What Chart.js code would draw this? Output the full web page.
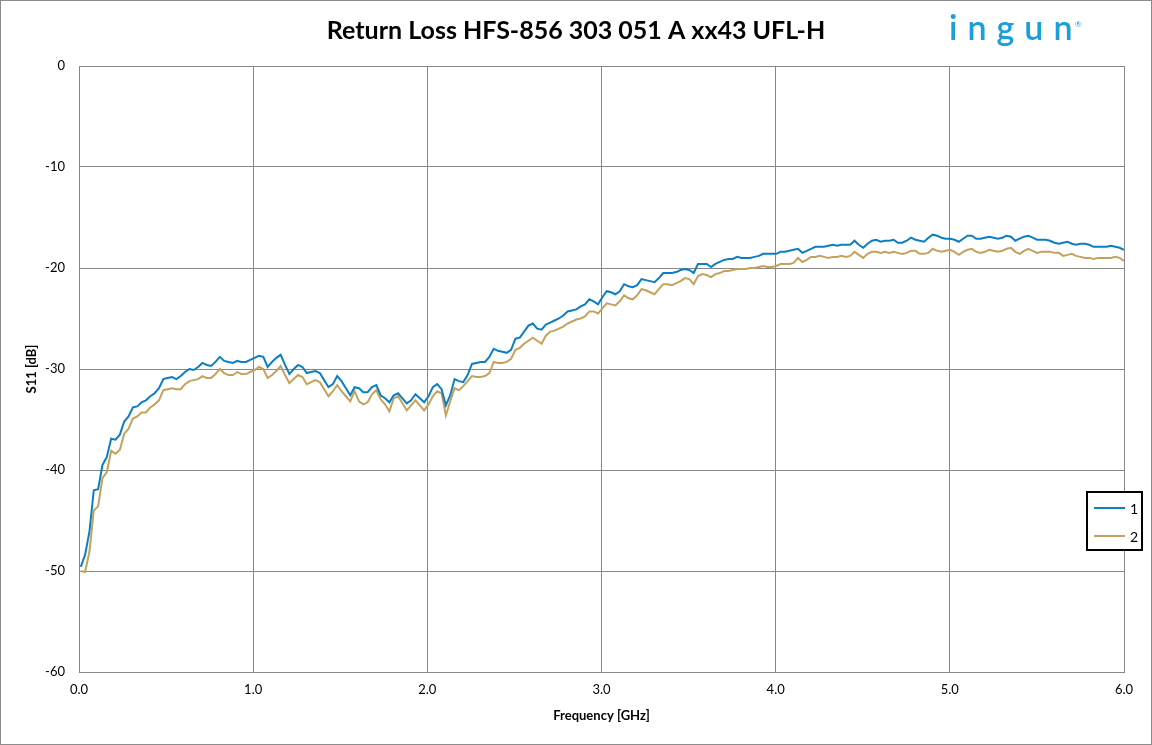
<!DOCTYPE html>
<html><head><meta charset="utf-8">
<script src="https://cdn.jsdelivr.net/npm/chart.js@4.4.1/dist/chart.umd.min.js"></script>
<style>html,body{margin:0;padding:0;background:#fff;overflow:hidden}canvas{display:block}</style>
</head><body>
<canvas id="c" width="1152" height="745"></canvas>
<script>
// Sweep definition (frequency axis, GHz)
const SWEEP_START_GHZ = 0.01;
const SWEEP_STOP_GHZ = 6.0;
const SWEEP_POINTS = 241;

const chartTitle = 'Return Loss HFS-856 303 051 A xx43 UFL-H';
const xAxisTitle = 'Frequency [GHz]';
const yAxisTitle = 'S11 [dB]';
const seriesNames = ['1', '2'];
const xTickValues = [0, 1, 2, 3, 4, 5, 6];
const yTickValues = [0, -10, -20, -30, -40, -50, -60];

// S11 [dB], trace 1
const s11Trace1 = [
-49.6,-48.4,-46.1,-42.0,-41.9,-39.5,-38.7,-36.9,-37.0,-36.5,
-35.2,-34.7,-33.8,-33.7,-33.3,-33.1,-32.7,-32.4,-31.9,-31.0,
-30.9,-30.8,-31.0,-30.7,-30.3,-30.0,-30.1,-29.8,-29.4,-29.6,
-29.7,-29.3,-28.8,-29.2,-29.3,-29.4,-29.2,-29.3,-29.3,-29.1,
-28.9,-28.7,-28.8,-29.8,-29.3,-28.9,-28.6,-29.6,-30.5,-30.0,
-29.6,-29.8,-30.4,-30.3,-30.2,-30.4,-31.1,-31.8,-31.5,-30.7,
-31.2,-31.9,-32.6,-31.8,-31.9,-32.3,-32.3,-31.8,-31.6,-32.6,
-32.9,-33.3,-32.6,-32.4,-32.9,-33.4,-33.1,-32.5,-32.9,-33.3,
-32.7,-31.8,-31.5,-32.0,-33.6,-32.6,-31.0,-31.2,-31.3,-30.6,
-29.5,-29.4,-29.3,-29.3,-28.8,-28.0,-28.2,-28.3,-28.4,-28.1,
-27.0,-26.9,-26.3,-25.7,-25.5,-26.0,-26.1,-25.6,-25.4,-25.2,
-25.0,-24.7,-24.3,-24.2,-24.1,-23.8,-23.6,-23.1,-23.3,-23.6,
-22.9,-22.3,-22.4,-22.6,-22.3,-21.6,-21.8,-21.9,-21.7,-21.1,
-21.2,-21.3,-21.4,-21.0,-20.5,-20.5,-20.5,-20.4,-20.2,-20.1,
-20.2,-20.5,-19.6,-19.6,-19.6,-19.9,-19.6,-19.4,-19.2,-19.1,
-19.1,-18.9,-19.0,-19.0,-19.0,-18.9,-18.8,-18.6,-18.6,-18.6,
-18.6,-18.4,-18.4,-18.3,-18.2,-18.1,-18.5,-18.3,-18.1,-17.9,
-17.9,-17.9,-17.8,-17.7,-17.8,-17.7,-17.7,-17.7,-17.3,-17.7,
-18.0,-17.6,-17.3,-17.2,-17.4,-17.3,-17.3,-17.2,-17.5,-17.5,
-17.3,-17.0,-17.2,-17.3,-17.4,-17.0,-16.7,-16.8,-17.0,-17.1,
-17.1,-17.2,-17.4,-17.1,-16.8,-16.8,-17.1,-17.1,-17.0,-16.9,
-17.0,-17.1,-17.0,-16.8,-16.9,-17.3,-17.1,-16.9,-16.8,-17.0,
-17.2,-17.2,-17.2,-17.3,-17.5,-17.6,-17.5,-17.4,-17.6,-17.7,
-17.6,-17.6,-17.7,-17.9,-17.9,-17.9,-17.9,-17.8,-17.9,-18.0,
-18.2
];

// S11 [dB], trace 2
const s11Trace2 = [
-50.0,-50.1,-48.1,-44.0,-43.6,-40.8,-40.2,-38.1,-38.4,-38.0,
-36.4,-35.9,-34.9,-34.7,-34.3,-34.3,-33.8,-33.5,-33.1,-32.1,
-32.0,-31.9,-32.0,-32.0,-31.5,-31.2,-31.1,-31.0,-30.7,-30.9,
-30.9,-30.5,-30.0,-30.4,-30.6,-30.6,-30.3,-30.5,-30.5,-30.3,
-30.1,-29.8,-30.0,-30.9,-30.6,-30.2,-29.7,-30.6,-31.4,-31.0,
-30.6,-30.8,-31.5,-31.3,-31.1,-31.3,-32.0,-32.7,-32.2,-31.6,
-32.2,-32.7,-33.2,-32.2,-33.2,-33.5,-33.3,-32.5,-32.1,-33.0,
-33.5,-34.2,-32.9,-32.7,-33.4,-34.1,-33.6,-33.1,-33.6,-34.1,
-33.5,-32.7,-32.2,-32.4,-34.6,-33.2,-31.9,-32.1,-31.7,-31.2,
-30.7,-30.8,-30.8,-30.7,-30.4,-29.3,-29.4,-29.4,-29.3,-29.0,
-28.1,-27.9,-27.5,-27.2,-26.9,-27.2,-27.5,-26.7,-26.3,-26.2,
-26.0,-25.8,-25.5,-25.3,-25.1,-25.0,-24.8,-24.3,-24.3,-24.5,
-24.0,-23.5,-23.6,-23.7,-23.3,-22.7,-23.0,-23.1,-22.7,-22.1,
-22.2,-22.4,-22.6,-22.1,-21.6,-21.6,-21.7,-21.5,-21.3,-21.0,
-21.1,-21.6,-20.8,-20.6,-20.7,-20.9,-20.6,-20.5,-20.3,-20.3,
-20.2,-20.1,-20.1,-20.1,-20.0,-20.0,-19.9,-19.8,-19.9,-19.9,
-19.8,-19.6,-19.6,-19.6,-19.5,-19.0,-19.4,-19.2,-18.9,-18.9,
-18.8,-18.9,-19.0,-18.9,-18.9,-18.8,-18.9,-18.8,-18.4,-18.7,
-19.0,-18.6,-18.4,-18.4,-18.5,-18.4,-18.5,-18.4,-18.5,-18.6,
-18.5,-18.3,-18.3,-18.6,-18.6,-18.5,-18.1,-18.3,-18.4,-18.3,
-18.2,-18.4,-18.7,-18.4,-18.2,-18.1,-18.4,-18.5,-18.4,-18.2,
-18.3,-18.4,-18.3,-18.1,-18.0,-18.4,-18.6,-18.3,-18.1,-18.3,
-18.5,-18.4,-18.4,-18.4,-18.5,-18.5,-18.8,-18.7,-18.6,-18.8,
-18.9,-19.0,-19.0,-19.1,-19.0,-19.0,-19.0,-19.0,-18.9,-19.0,
-19.3
];

const freqGHz = Array.from({length: SWEEP_POINTS}, (_, i) =>
  SWEEP_START_GHZ + i * (SWEEP_STOP_GHZ - SWEEP_START_GHZ) / (SWEEP_POINTS - 1));

const COLORS = ['#0b7fc0', '#c4a25e'];
const GRID = '#888888';
const FONT = 'Lato, "Open Sans", sans-serif';

const framePlugin = {
  id: 'frame',
  afterDraw(chart) {
    const ctx = chart.ctx;
    ctx.save();
    // outer border
    ctx.strokeStyle = '#8c8c8c';
    ctx.lineWidth = 1;
    ctx.strokeRect(0.5, 0.5, chart.width - 1, chart.height - 1);
    // logo
    ctx.fillStyle = '#1a9fd9';
    ctx.font = '600 34px ' + FONT;
    ctx.textBaseline = 'alphabetic';
    ctx.textAlign = 'left';
    if ('letterSpacing' in ctx) ctx.letterSpacing = '10px';
    ctx.fillText('ingun', 949, 40);
    if ('letterSpacing' in ctx) ctx.letterSpacing = '0px';
    ctx.font = '400 8px ' + FONT;
    ctx.fillText('®', 1075, 27);
    // legend
    const bx = 1087, by = 492, bw = 55, bh = 58;
    ctx.fillStyle = '#ffffff';
    ctx.fillRect(bx, by, bw, bh);
    ctx.strokeStyle = '#000000';
    ctx.lineWidth = 2;
    ctx.strokeRect(bx, by, bw, bh);
    ctx.font = '14px ' + FONT;
    ctx.textBaseline = 'middle';
    chart.data.datasets.forEach((ds, i) => {
      if (!ds.label) return;
      const y = by + 16 + i * 28;
      ctx.strokeStyle = ds.borderColor;
      ctx.lineWidth = 2;
      ctx.beginPath();
      ctx.moveTo(bx + 7, y);
      ctx.lineTo(bx + 38, y);
      ctx.stroke();
      ctx.fillStyle = '#000000';
      ctx.fillText(ds.label, bx + 43, y + 1);
    });
    ctx.restore();
  }
};

new Chart(document.getElementById('c'), {
  type: 'line',
  data: {
    datasets: [
      { label: seriesNames[0], data: freqGHz.map((f, i) => ({x: f, y: s11Trace1[i]})),
        borderColor: COLORS[0], backgroundColor: COLORS[0], borderWidth: 2, pointRadius: 0, tension: 0 },
      { label: seriesNames[1], data: freqGHz.map((f, i) => ({x: f, y: s11Trace2[i]})),
        borderColor: COLORS[1], backgroundColor: COLORS[1], borderWidth: 2, pointRadius: 0, tension: 0 }
    ]
  },
  options: {
    responsive: false,
    animation: false,
    devicePixelRatio: 1,
    layout: { padding: { left: 0, right: 0, top: 0, bottom: 0 } },
    plugins: {
      legend: { display: false },
      tooltip: { enabled: false },
      title: {
        display: true, text: chartTitle, color: '#000',
        font: { family: FONT, size: 25, weight: 'bold', lineHeight: 1.2 },
        padding: { top: 16, bottom: 20 }
      }
    },
    scales: {
      x: {
        type: 'linear', min: 0, max: 6,
        afterBuildTicks: s => { s.ticks = xTickValues.map(v => ({value: v})); },
        afterFit: s => { s.height = 73; },
        grid: { color: GRID, lineWidth: 1, drawTicks: false },
        border: { display: true, color: GRID, width: 1 },
        ticks: { color: '#000', padding: 10, font: { family: FONT, size: 13 },
                 callback: v => Number(v).toFixed(1), maxRotation: 0 },
        title: { display: true, text: xAxisTitle, color: '#000',
                 font: { family: FONT, size: 13, weight: 'bold' }, padding: { top: 4, bottom: 21 } }
      },
      y: {
        type: 'linear', min: -60, max: 0,
        afterBuildTicks: s => { s.ticks = yTickValues.map(v => ({value: v})); },
        afterFit: s => { s.width = 79; },
        grid: { color: GRID, lineWidth: 1, drawTicks: false },
        border: { display: true, color: GRID, width: 1 },
        ticks: { color: '#000', padding: 14, font: { family: FONT, size: 13 } },
        title: { display: true, text: yAxisTitle, color: '#000',
                 font: { family: FONT, size: 13, weight: 'bold' }, padding: { top: 24, bottom: 4 } }
      },
      yRightMargin: {
        type: 'linear', position: 'right', min: -60, max: 0, display: true,
        afterFit: s => { s.width = 28; },
        grid: { display: false, drawOnChartArea: false, drawTicks: false },
        border: { display: false },
        ticks: { display: false }
      }
    }
  },
  plugins: [framePlugin]
});
</script>
</body></html>
